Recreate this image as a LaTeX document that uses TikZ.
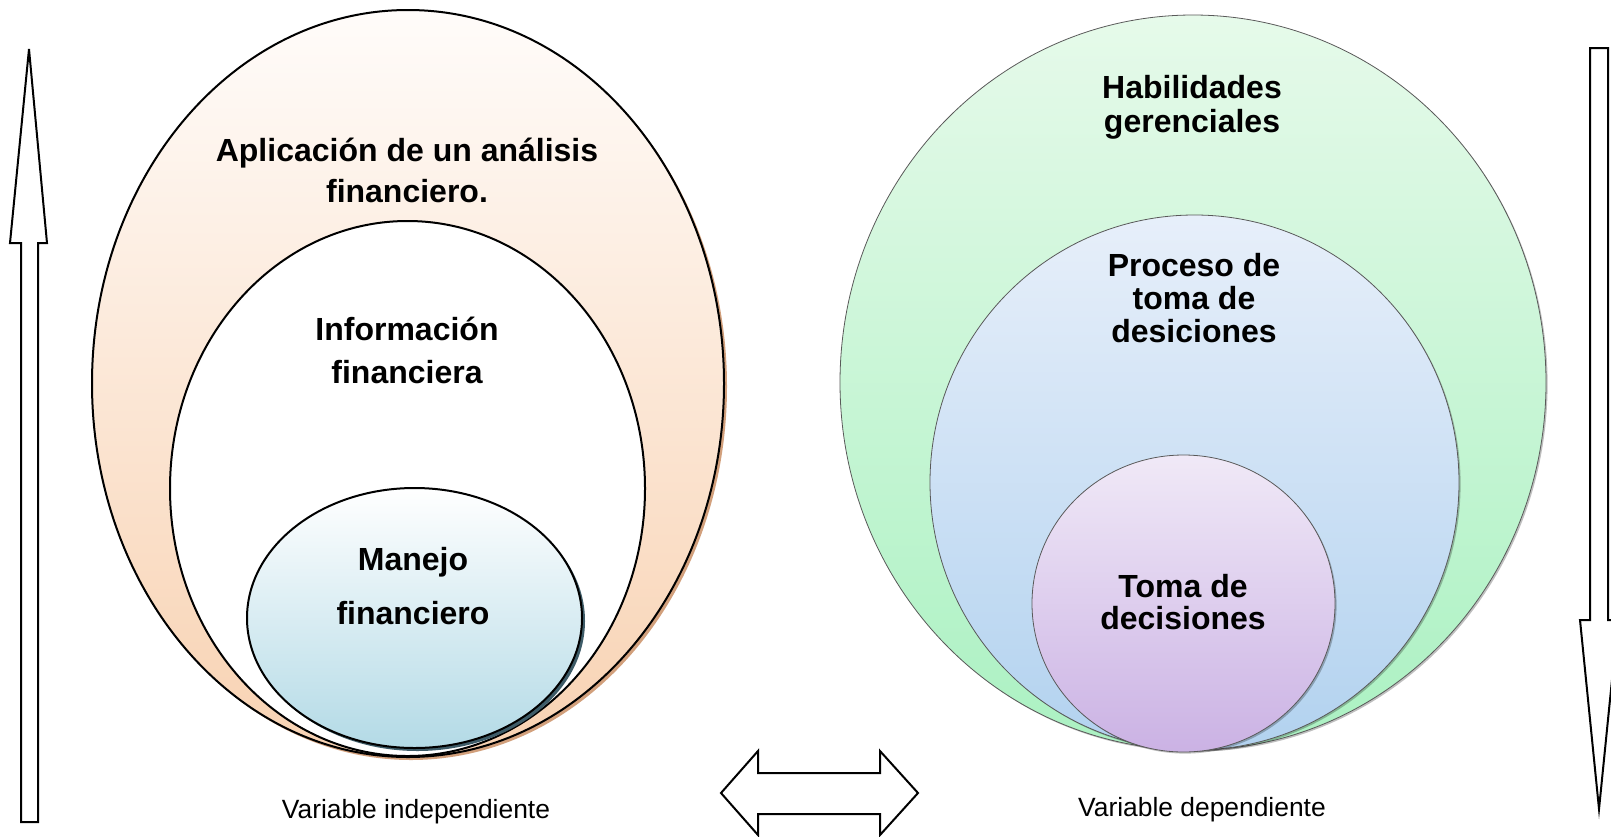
\documentclass[tikz,border=0pt]{standalone}
\usepackage{fontspec}
\setmainfont{Liberation Sans}
\usepackage{xcolor}
\usetikzlibrary{shapes.geometric,shadows}

\definecolor{peachtop}{HTML}{FFFCFA}
\definecolor{peachbot}{HTML}{F8D2B2}
\definecolor{peachshade}{HTML}{D2A07C}
\definecolor{bluegtop}{HTML}{FFFFFF}
\definecolor{bluegbot}{HTML}{B3DAE6}
\definecolor{bluegshade}{HTML}{3E5C68}
\definecolor{greentop}{HTML}{E6FAEA}
\definecolor{greenbot}{HTML}{ABF1C2}
\definecolor{skytop}{HTML}{E7EFFA}
\definecolor{skybot}{HTML}{B2D2EF}
\definecolor{lilatop}{HTML}{F0E9F7}
\definecolor{lilabot}{HTML}{CBB2E4}

\begin{document}
\begin{tikzpicture}[x=0.5pt,y=-0.5pt,
    oval/.style={ellipse,inner sep=0pt,draw=black,line width=1pt},
    soft/.style={ellipse,inner sep=0pt,draw=black!65,line width=0.4pt,
      drop shadow={shadow xshift=0.8pt,shadow yshift=-0.8pt,fill=black,opacity=0.25}},
    lbl/.style={align=center,font=\bfseries\fontsize{16}{#1}\selectfont},
    var/.style={font=\fontsize{13.2}{16}\selectfont},
    hollow/.style={draw=black,fill=white,line width=1pt,line join=miter}
  ]
    \clip (0,0) rectangle (1611,836);

    % variable independiente
    \node[oval,minimum width=316pt,minimum height=373.5pt,top color=peachtop,bottom color=peachbot,
      drop shadow={shadow xshift=1.5pt,shadow yshift=-1.5pt,fill=peachshade,opacity=1}] (aplic) at (408,383.5) {};
    \node[oval,minimum width=237.5pt,minimum height=267.5pt,fill=white] (info) at (407.5,488.5) {};
    \node[oval,minimum width=167.5pt,minimum height=130pt,top color=bluegtop,bottom color=bluegbot,
      drop shadow={shadow xshift=1.5pt,shadow yshift=-1.5pt,fill=bluegshade,opacity=1}] (manejo) at (414.5,618) {};

    \node[lbl=20.5] (aplictxt) at (407,170) {Aplicación de un análisis\\financiero.};
    \node[lbl=21.5] (infotxt) at (407,350) {Información\\financiera};
    \node[lbl=27] (manejotxt) at (413,586) {Manejo\\financiero};

    % variable dependiente
    \node[soft,minimum width=353pt,minimum height=367.5pt,top color=greentop,bottom color=greenbot] (habil) at (1193,382.5) {};
    \node[soft,minimum width=264.5pt,minimum height=267.5pt,top color=skytop,bottom color=skybot] (proceso) at (1194.5,482.5) {};
    \node[soft,minimum width=151.5pt,minimum height=148.5pt,top color=lilatop,bottom color=lilabot] (toma) at (1183.5,603.5) {};

    \node[lbl=17] (habiltxt) at (1192,107) {Habilidades\\gerenciales};
    \node[lbl=16.5] (procesotxt) at (1194,298) {Proceso de\\toma de\\desiciones};
    \node[lbl=16] (tomatxt) at (1183,602) {Toma de\\decisiones};

    \node[var] (indep) at (416,812) {Variable independiente};
    \node[var] (dep) at (1202,810) {Variable dependiente};

    % flechas
    \draw[hollow] (21,822) -- (21,243) -- (10,243) -- (29,49) -- (47,243) -- (38,243) -- (38,822) -- cycle;
    \draw[hollow] (1590,48) -- (1590,620) -- (1580,620) -- (1599,809) -- (1618,620) -- (1608,620) -- (1608,48) -- cycle;
    \draw[hollow] (721,793) -- (758,751) -- (758,773) -- (880,773) -- (880,751) -- (918,793)
      -- (880,835) -- (880,814) -- (758,814) -- (758,835) -- cycle;
  \end{tikzpicture}
\end{document}
